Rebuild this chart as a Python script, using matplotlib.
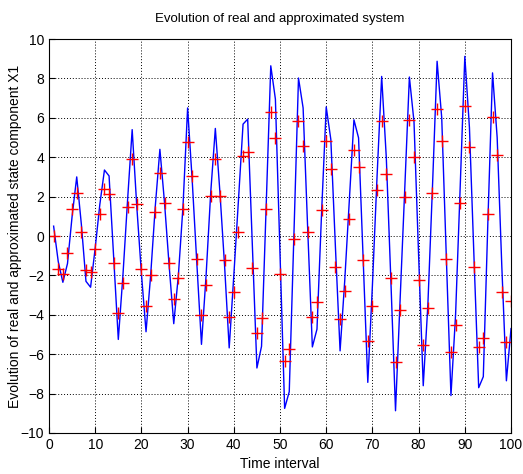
import numpy as np
import matplotlib
matplotlib.use("Agg")
from matplotlib import pyplot as plt

plt.rcParams['font.family'] = ['Liberation Sans', 'DejaVu Sans']

# time steps
t = np.arange(1, 101)

# real system, state component X1
x_real = [0.5, -1.3, -2.35, -1.4, 1.0, 3.0, 0.6, -2.3, -2.6, -0.6,
          1.6, 3.35, 3.05, -1.1, -5.25, -2.0, 1.8, 5.4, 1.5, -1.9,
          -4.86, -2.0, 1.5, 4.4, 1.7, -1.5, -4.45, -2.0, 1.5, 6.5,
          2.8, -1.4, -5.5, -2.0, 2.2, 5.46, 2.2, -1.5, -5.68, -2.0,
          1.8, 5.68, 5.93, -0.4, -6.7, -5.6, 1.5, 8.64, 6.95, -0.9,
          -8.75, -7.9, 0.0, 8.02, 6.5, 0.3, -5.63, -4.73, 1.2, 6.55,
          4.9, -0.6, -5.83, -2.3, 1.8, 5.9, 4.98, -1.2, -7.43, -2.5,
          3.0, 8.1, 4.0, -2.3, -8.87, -3.2, 2.4, 8.07, 5.8, -1.0,
          -7.6, -3.5, 2.5, 8.87, 6.0, -1.1, -8.1, -4.0, 2.5, 9.12,
          5.5, -1.2, -7.7, -7.14, 0.8, 8.28, 5.0, -1.5, -7.35, -4.7]

# approximated system
x_approx = [0.0, -1.69, -1.95, -0.85, 1.36, 2.2, 0.2, -1.73, -1.83, -0.68,
            1.1, 2.37, 2.12, -1.36, -3.9, -2.37, 1.47, 3.9, 1.64, -1.69,
            -3.56, -1.98, 1.24, 3.19, 1.69, -1.36, -3.22, -2.12, 1.39, 4.75,
            3.05, -1.19, -4.03, -2.51, 2.03, 3.93, 2.03, -1.24, -4.12, -2.83,
            0.2, 4.07, 4.27, -1.61, -4.92, -4.17, 1.39, 6.3, 5.0, -1.93,
            -6.37, -5.74, -0.14, 5.86, 4.56, 0.22, -4.1, -3.33, 1.32, 4.81,
            3.41, -1.55, -4.22, -2.79, 0.84, 4.36, 3.51, -1.22, -5.35, -3.55,
            2.36, 5.86, 3.16, -2.11, -6.42, -3.75, 1.99, 5.88, 4.0, -2.23,
            -5.54, -3.63, 2.2, 6.45, 4.81, -1.18, -5.88, -4.53, 1.66, 6.62,
            4.51, -1.55, -5.61, -5.19, 1.13, 6.03, 4.09, -2.82, -5.37, -3.29]

fig = plt.figure(figsize=(5.23, 4.74), dpi=100)
ax = fig.add_axes([0.0937, 0.0865, 0.8834, 0.8312])

ax.plot(t, x_real, color='blue', linewidth=1.0)
ax.plot(t, x_approx, '+', color='red', markersize=9, markeredgewidth=1.0)

ax.set_xlim(0, 100)
ax.set_ylim(-10, 10)
ax.set_xticks(np.arange(0, 101, 10))
ax.set_yticks(np.arange(-10, 11, 2))
ax.grid(True, linestyle=(0, (1, 2)), color='black', linewidth=0.7)
ax.tick_params(direction='in', labelsize=10, length=4)

ax.set_title("Evolution of real and approximated system", fontsize=9.5, pad=12)
ax.set_xlabel("Time interval", fontsize=10, labelpad=4)
ax.set_ylabel("Evolution of real and approximated state component X1", fontsize=10, labelpad=-1)

fig.savefig("out.png", dpi=100)
